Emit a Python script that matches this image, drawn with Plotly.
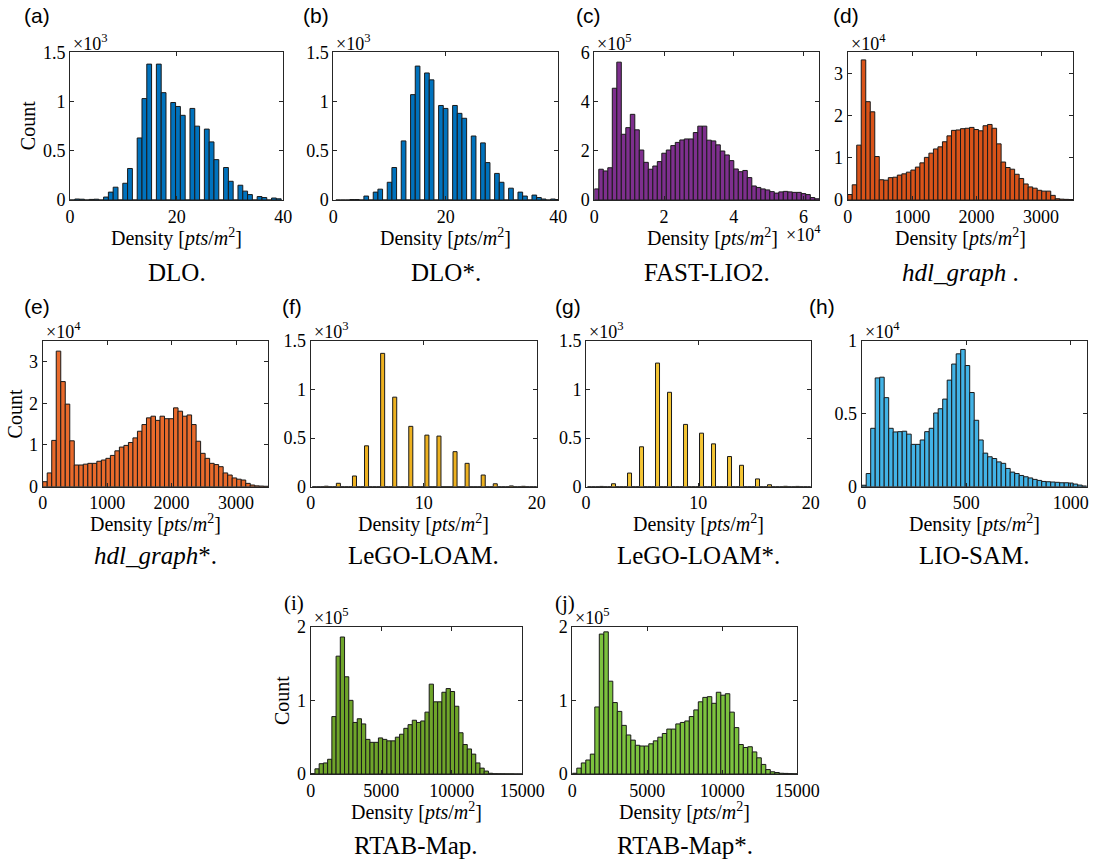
import plotly.graph_objects as go

W, H = 1095, 864

# ---------------- data ----------------
# (a) DLO.  counts in units of 10^3
dlo_bin_start, dlo_bin_width = 0.0, 0.9
dlo_counts = [0, 0.010, 0.008, 0, 0.006, 0.008, 0, 0.030, 0.080, 0.130,
              0, 0.170, 0.320, 0, 0.630, 1.030, 1.380, 0, 1.380, 1.090,
              0, 0.990, 0.950, 0.860, 0, 0.930, 0.750, 0, 0.720, 0.590,
              0.410, 0, 0.330, 0.190, 0, 0.150, 0.090, 0.055, 0, 0.035,
              0.025, 0, 0.020, 0.012]

# (b) DLO*.  counts in units of 10^3
dlo_star_bin_start, dlo_star_bin_width = 0.46, 0.83
dlo_star_counts = [0, 0, 0, 0.005, 0.005, 0, 0.040, 0, 0.080, 0.110,
                   0, 0.180, 0.330, 0, 0.600, 0, 1.070, 1.360, 0, 1.290,
                   1.220, 0, 0.960, 0.930, 0, 0.960, 0.880, 0.830, 0, 0.650,
                   0, 0.580, 0.380, 0, 0.270, 0.180, 0, 0.120, 0, 0.080,
                   0.040, 0, 0.050, 0.025, 0.010, 0, 0.010, 0.005]

# (c) FAST-LIO2.  counts in units of 10^5
fastlio_bin_start, fastlio_bin_width = 0.0, 1290.0
fastlio_counts = [0.45, 1.25, 1.18, 1.31, 4.54, 5.60, 2.67, 2.94, 3.48, 2.85,
                  2.03, 1.53, 1.25, 1.38, 1.56, 1.90, 2.03, 2.21, 2.34, 2.44,
                  2.48, 2.48, 2.74, 3.00, 3.00, 2.43, 2.40, 2.24, 1.99, 1.83,
                  1.60, 1.26, 1.15, 1.20, 0.91, 0.57, 0.51, 0.45, 0.41, 0.34,
                  0.28, 0.33, 0.35, 0.33, 0.31, 0.31, 0.26, 0.22, 0.10, 0.05]

# (d) hdl_graph.  counts in units of 10^4
hdl_bin_start, hdl_bin_width = 0.0, 70.0
hdl_counts = [0.13, 0.36, 1.30, 3.32, 2.33, 2.09, 1.03, 0.48, 0.47, 0.53,
              0.54, 0.59, 0.62, 0.66, 0.71, 0.78, 0.88, 1.01, 1.11, 1.21,
              1.26, 1.38, 1.52, 1.65, 1.66, 1.69, 1.70, 1.72, 1.67, 1.64,
              1.76, 1.79, 1.70, 1.33, 0.90, 0.77, 0.73, 0.61, 0.51, 0.38,
              0.31, 0.28, 0.23, 0.21, 0.21, 0.11, 0.03, 0.02, 0.015, 0.01]

# (e) hdl_graph*.  counts in units of 10^4
hdl_star_bin_start, hdl_star_bin_width = 0.0, 70.0
hdl_star_counts = [0.12, 0.33, 1.11, 3.25, 2.52, 1.98, 1.10, 0.52, 0.52, 0.54,
                   0.56, 0.56, 0.61, 0.64, 0.68, 0.75, 0.86, 0.95, 0.99, 1.06,
                   1.17, 1.33, 1.49, 1.65, 1.69, 1.59, 1.69, 1.63, 1.63, 1.89,
                   1.81, 1.69, 1.72, 1.49, 1.09, 0.80, 0.68, 0.56, 0.53, 0.48,
                   0.33, 0.28, 0.21, 0.18, 0.16, 0.08, 0.04, 0.02, 0.015, 0.01]

# (f) LeGO-LOAM.  counts in units of 10^3
lego_bin_start, lego_bin_width = 0.136, 0.356
lego_counts = [0, 0, 0, 0.005, 0, 0, 0.035, 0, 0, 0,
               0.110, 0, 0, 0.420, 0, 0, 0, 1.370, 0, 0,
               0.920, 0, 0, 0, 0.620, 0, 0, 0, 0.530, 0,
               0, 0.520, 0, 0, 0, 0.360, 0, 0, 0.240, 0,
               0, 0, 0.120, 0, 0, 0.030, 0, 0, 0, 0.008,
               0, 0, 0.004, 0, 0, 0]

# (g) LeGO-LOAM*.  counts in units of 10^3
lego_star_bin_start, lego_star_bin_width = 0.136, 0.356
lego_star_counts = [0, 0, 0, 0.003, 0, 0, 0.030, 0, 0, 0,
                    0.140, 0, 0, 0.410, 0, 0, 0, 1.270, 0, 0,
                    0.970, 0, 0, 0, 0.640, 0, 0, 0, 0.550, 0,
                    0, 0.440, 0, 0, 0, 0.310, 0, 0, 0.220, 0,
                    0, 0, 0.080, 0, 0, 0.020, 0, 0, 0, 0.004,
                    0, 0, 0.003, 0, 0, 0]

# (h) LIO-SAM.  counts in units of 10^4
liosam_bin_start, liosam_bin_width = 0.0, 21.52
liosam_counts = [0.010, 0.090, 0.400, 0.745, 0.750, 0.610, 0.400, 0.375, 0.377, 0.380,
                 0.360, 0.290, 0.290, 0.320, 0.377, 0.400, 0.505, 0.534, 0.600, 0.730,
                 0.840, 0.910, 0.940, 0.830, 0.645, 0.455, 0.320, 0.230, 0.205, 0.193,
                 0.170, 0.160, 0.125, 0.100, 0.090, 0.077, 0.068, 0.060, 0.050, 0.043,
                 0.036, 0.034, 0.032, 0.030, 0.027, 0.027, 0.025, 0.018, 0.011, 0.005]

# (i) RTAB-Map.  counts in units of 10^5
rtab_bin_start, rtab_bin_width = 0.0, 300.0
rtab_counts = [0.005, 0.07, 0.14, 0.15, 0.20, 0.78, 1.60, 1.86, 1.32, 1.00,
               0.70, 0.75, 0.68, 0.47, 0.43, 0.43, 0.49, 0.47, 0.45, 0.45,
               0.50, 0.54, 0.62, 0.67, 0.73, 0.70, 0.72, 0.84, 1.22, 0.98,
               0.98, 1.11, 1.16, 1.12, 0.92, 0.56, 0.40, 0.34, 0.27, 0.15,
               0.08, 0.04, 0.01, 0.004, 0.003, 0.003, 0.002, 0.002, 0.001, 0.001]

# (j) RTAB-Map*.  counts in units of 10^5
rtab_star_bin_start, rtab_star_bin_width = 0.0, 300.0
rtab_star_counts = [0.01, 0.08, 0.15, 0.19, 0.27, 0.91, 1.90, 1.93, 1.26, 0.97,
                    0.85, 0.66, 0.53, 0.46, 0.39, 0.38, 0.38, 0.41, 0.45, 0.50,
                    0.55, 0.61, 0.61, 0.68, 0.70, 0.72, 0.78, 0.87, 0.98, 1.04,
                    1.05, 0.96, 1.11, 1.07, 1.09, 0.84, 0.63, 0.40, 0.36, 0.37,
                    0.30, 0.22, 0.13, 0.06, 0.03, 0.02, 0.01, 0.008, 0.005, 0.003]

captions = ["DLO.", "DLO*.", "FAST-LIO2.", "<i>hdl_graph</i> .", "<i>hdl_graph</i>*.",
            "LeGO-LOAM.", "LeGO-LOAM*.", "LIO-SAM.", "RTAB-Map.", "RTAB-Map*."]
panel_labels = ["(a)", "(b)", "(c)", "(d)", "(e)", "(f)", "(g)", "(h)", "(i)", "(j)"]
exponents = [3, 3, 5, 4, 4, 3, 3, 4, 5, 5]

x_ticks_a = [0, 20, 40]
x_ticks_c = [0, 20000, 40000, 60000]
x_ticklabels_c = ["0", "2", "4", "6"]
x_ticks_d = [0, 1000, 2000, 3000]
x_ticks_f = [0, 10, 20]
x_ticks_h = [0, 500, 1000]
x_ticks_i = [0, 5000, 10000, 15000]
y_ticks_15 = [0, 0.5, 1, 1.5]
y_ticks_6 = [0, 2, 4, 6]
y_ticks_3 = [0, 1, 2, 3]
y_ticks_1 = [0, 0.5, 1]
y_ticks_2 = [0, 1, 2]

# ---------------- styling / layout ----------------
SERIF = "Liberation Serif"
SANS = "Liberation Sans"
TICK_SIZE = 18
TITLE_SIZE = 20
CAP_SIZE = 25
LAB_SIZE = 21

def fmt(v):
    return ("%g" % v)

panels = [
    dict(counts=dlo_counts, start=dlo_bin_start, width=dlo_bin_width, color="#0072BD",
         box=(70, 52.3, 283.3, 200), xr=[0, 40], yr=[0, 1.5],
         xt=x_ticks_a, xtl=None, yt=y_ticks_15, count=42, lab=(22, 16), labfont=SANS),
    dict(counts=dlo_star_counts, start=dlo_star_bin_start, width=dlo_star_bin_width, color="#0072BD",
         box=(333.3, 52.3, 558.3, 200), xr=[0, 40], yr=[0, 1.5],
         xt=x_ticks_a, xtl=None, yt=y_ticks_15, count=None, lab=(301, 16), labfont=SANS),
    dict(counts=fastlio_counts, start=fastlio_bin_start, width=fastlio_bin_width, color="#7E2F8E",
         box=(594.3, 52.3, 819.3, 200), xr=[0, 64500], yr=[0, 6],
         xt=x_ticks_c, xtl=x_ticklabels_c, yt=y_ticks_6, count=None, lab=(574, 16), labfont=SANS),
    dict(counts=hdl_counts, start=hdl_bin_start, width=hdl_bin_width, color="#D95319",
         box=(847.7, 52.3, 1073.3, 200), xr=[0, 3500], yr=[0, 3.5],
         xt=x_ticks_d, xtl=None, yt=y_ticks_3, count=None, lab=(831, 16), labfont=SANS),
    dict(counts=hdl_star_counts, start=hdl_star_bin_start, width=hdl_star_bin_width, color="#E96A2B",
         box=(42.7, 340.7, 268.3, 486.7), xr=[0, 3500], yr=[0, 3.5],
         xt=x_ticks_d, xtl=None, yt=y_ticks_3, count=28, lab=(22, 306), labfont=SANS),
    dict(counts=lego_counts, start=lego_bin_start, width=lego_bin_width, color="#EDB120",
         box=(310.7, 340.7, 536.7, 486.7), xr=[0, 20], yr=[0, 1.5],
         xt=x_ticks_f, xtl=None, yt=y_ticks_15, count=None, lab=(280, 306), labfont=SANS),
    dict(counts=lego_star_counts, start=lego_star_bin_start, width=lego_star_bin_width, color="#F4C534",
         box=(586, 340.7, 810.7, 486.7), xr=[0, 20], yr=[0, 1.5],
         xt=x_ticks_f, xtl=None, yt=y_ticks_15, count=None, lab=(553, 306), labfont=SANS),
    dict(counts=liosam_counts, start=liosam_bin_start, width=liosam_bin_width, color="#42B3E6",
         box=(861.7, 340.7, 1086.7, 486.7), xr=[0, 1076], yr=[0, 1],
         xt=x_ticks_h, xtl=None, yt=y_ticks_1, count=None, lab=(807, 306), labfont=SANS),
    dict(counts=rtab_counts, start=rtab_bin_start, width=rtab_bin_width, color="#6FA52A",
         box=(310.7, 626.7, 522.3, 774), xr=[0, 15000], yr=[0, 2],
         xt=x_ticks_i, xtl=None, yt=y_ticks_2, count=28, lab=(282, 603), labfont=SERIF),
    dict(counts=rtab_star_counts, start=rtab_star_bin_start, width=rtab_star_bin_width, color="#7CC23E",
         box=(572.3, 626.7, 797.3, 774), xr=[0, 15000], yr=[0, 2],
         xt=x_ticks_i, xtl=None, yt=y_ticks_2, count=None, lab=(553, 603), labfont=SERIF),
]

caption_dy = [72, 72, 72, 72, 69, 69, 69, 69, 71, 71]

def px(x):
    return x / W

def py(y):
    return 1 - y / H

fig = go.Figure()
annotations = []

def ann(text, x, y, size, family, xanchor="center", yanchor="middle", angle=0):
    annotations.append(dict(text=text, x=px(x), y=py(y), xref="paper", yref="paper",
                            showarrow=False, xanchor=xanchor, yanchor=yanchor,
                            textangle=angle, font=dict(size=size, family=family, color="black")))

layout_axes = {}
for k, p in enumerate(panels):
    n = k + 1
    xa = "x" if n == 1 else "x%d" % n
    ya = "y" if n == 1 else "y%d" % n
    centers = [p["start"] + (i + 0.5) * p["width"] for i in range(len(p["counts"]))]
    fig.add_trace(go.Bar(x=centers, y=p["counts"], width=p["width"], xaxis=xa, yaxis=ya,
                         marker=dict(color=p["color"], line=dict(color="#1a1a1a", width=1)),
                         showlegend=False, hoverinfo="skip"))
    x0, y0, x1, y1 = p["box"]
    axis_common = dict(ticks="inside", ticklen=4, tickwidth=1, tickcolor="#262626",
                       showline=True, linecolor="#262626", linewidth=1, mirror="ticks",
                       showgrid=False, zeroline=False, fixedrange=True, automargin=False,
                       tickfont=dict(family=SERIF, size=TICK_SIZE, color="black"))
    xtl = p["xtl"] if p["xtl"] is not None else [fmt(v) for v in p["xt"]]
    layout_axes["xaxis" if n == 1 else "xaxis%d" % n] = dict(
        domain=[px(x0), px(x1)], anchor=ya, range=p["xr"], tickmode="array",
        tickvals=p["xt"], ticktext=xtl, **axis_common)
    layout_axes["yaxis" if n == 1 else "yaxis%d" % n] = dict(
        domain=[py(y1), py(y0)], anchor=xa, range=p["yr"], tickmode="array",
        tickvals=p["yt"], ticktext=[fmt(v) for v in p["yt"]], **axis_common)

    # exponent above the y axis
    ann("×10<sup>%d</sup>" % exponents[k], x0 + 1, y0 - 10, TICK_SIZE, SERIF, xanchor="left")
    # x-axis title
    tx = (x0 + x1) / 2 if k != 2 else 712
    ann("Density [<i>pts</i>/<i>m</i><sup>2</sup>]", tx, y1 + 37, TITLE_SIZE, SERIF)
    # y-axis title
    if p["count"] is not None:
        ann("Count", x0 - p["count"], (y0 + y1) / 2, TITLE_SIZE, SERIF, angle=-90)
    # caption
    ann(captions[k], (x0 + x1) / 2, y1 + caption_dy[k], CAP_SIZE, SERIF)
    # panel label
    ann(panel_labels[k], p["lab"][0], p["lab"][1], LAB_SIZE, p["labfont"], xanchor="left")

# x exponent for FAST-LIO2
ann("×10<sup>4</sup>", 823, 234, TICK_SIZE, SERIF, xanchor="right")

fig.update_layout(template="none", width=W, height=H, autosize=False,
                  margin=dict(l=0, r=0, t=0, b=0, pad=0),
                  paper_bgcolor="white", plot_bgcolor="white", showlegend=False,
                  annotations=annotations, **layout_axes)

fig.write_html("out.html", config={"displayModeBar": False, "staticPlot": True},
               post_script="document.body.style.margin='0';document.body.style.overflow='hidden';")
